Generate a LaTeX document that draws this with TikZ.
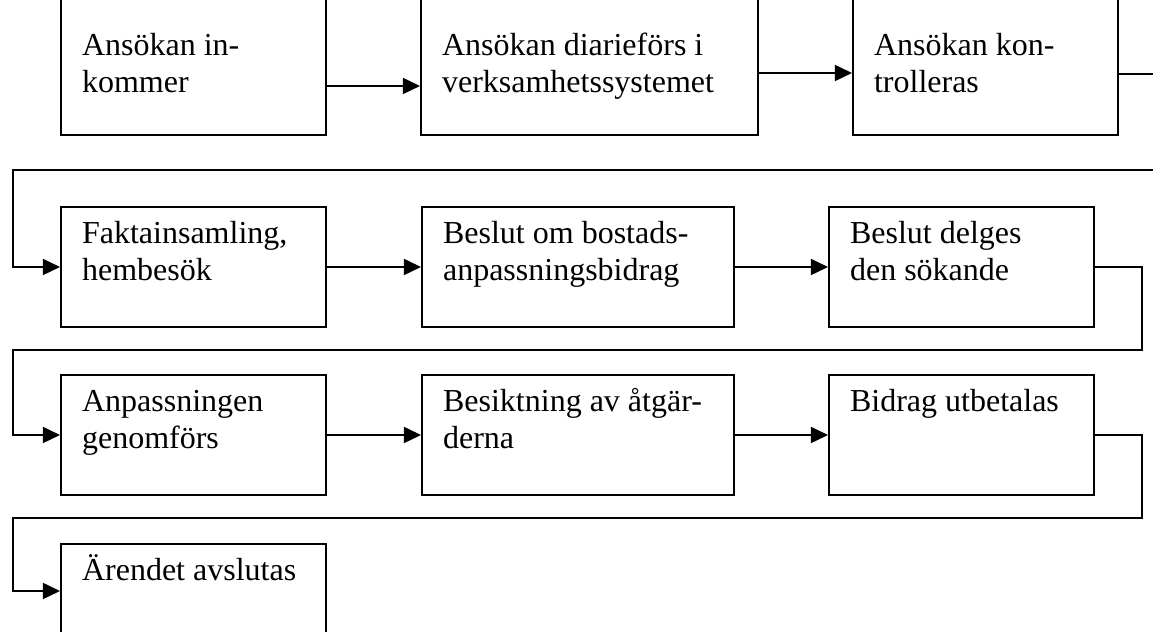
\documentclass[tikz,border=0pt]{standalone}
\usepackage{fontspec}
\setmainfont{Liberation Serif}
\usetikzlibrary{arrows.meta}
\newcommand{\steptext}[3]{\parbox[t][#2][t]{#1}{\strut #3}}
\tikzset{
	stepbox/.style={draw, line width=0.75pt, anchor=north west, inner xsep=7.9pt, inner ysep=4.1pt, font=\fontsize{12pt}{13.9pt}\selectfont},
	toprow/.style={inner ysep=11.6pt},
	flow/.style={line width=0.65pt, -{Triangle[length=6.4pt, width=6pt]}},
	link/.style={line width=0.65pt}
}
\begin{document}
\begin{tikzpicture}[x=0.375pt, y=-0.375pt]
			%%%%% START %%%%%
			\useasboundingbox (0, 0) rectangle (1153, 632);
			\clip (0, 0) rectangle (1153, 632);
			
			% row 1
			\node[stepbox, toprow] (b11) at (60, -2) {\steptext{83.6pt}{27.8pt}{Ansökan in-\\kommer}};
			\node[stepbox, toprow] (b12) at (420, -2) {\steptext{110.6pt}{27.8pt}{Ansökan diarieförs i\\verksamhetssystemet}};
			\node[stepbox, toprow] (b13) at (852, -2) {\steptext{83.6pt}{27.8pt}{Ansökan kon-\\trolleras}};
			
			% row 2
			\node[stepbox] (b21) at (60, 206) {\steptext{83.6pt}{36.8pt}{Faktainsamling,\\hembesök}};
			\node[stepbox] (b22) at (421, 206) {\steptext{101.25pt}{36.8pt}{Beslut om bostads-\\anpassningsbidrag}};
			\node[stepbox] (b23) at (828, 206) {\steptext{83.6pt}{36.8pt}{Beslut delges\\den sökande}};
			
			% row 3
			\node[stepbox] (b31) at (60, 374) {\steptext{83.6pt}{36.8pt}{Anpassningen\\genomförs}};
			\node[stepbox] (b32) at (421, 374) {\steptext{101.25pt}{36.8pt}{Besiktning av åtgär-\\derna}};
			\node[stepbox] (b33) at (828, 374) {\steptext{83.6pt}{36.8pt}{Bidrag utbetalas}};
			
			% row 4
			\node[stepbox] (b41) at (60, 543) {\steptext{83.6pt}{36.8pt}{Ärendet avslutas}};
			
			% bends
			\coordinate (r1r) at (1165, 170);
			\coordinate (r1l) at (12.7, 170);
			\coordinate (r2r) at (1142, 350);
			\coordinate (r2l) at (12.7, 350);
			\coordinate (r3r) at (1142, 518);
			\coordinate (r3l) at (12.7, 518);
			
			\draw[flow] (b11.east |- 0, 86) -- (b12.west |- 0, 86);
			\draw[flow] (b12.east |- 0, 73) -- (b13.west |- 0, 73);
			\draw[flow] (b13.east |- 0, 74) -| (r1r) -- (r1l) |- (b21.west);
			
			\draw[flow] (b21.east) -- (b22.west);
			\draw[flow] (b22.east) -- (b23.west);
			\draw[flow] (b23.east) -| (r2r) -- (r2l) |- (b31.west);
			
			\draw[flow] (b31.east) -- (b32.west);
			\draw[flow] (b32.east) -- (b33.west);
			\draw[flow] (b33.east) -| (r3r) -- (r3l) |- (b41.west |- 0, 591);
			
			%%%%% END %%%%%
\end{tikzpicture}
\end{document}
